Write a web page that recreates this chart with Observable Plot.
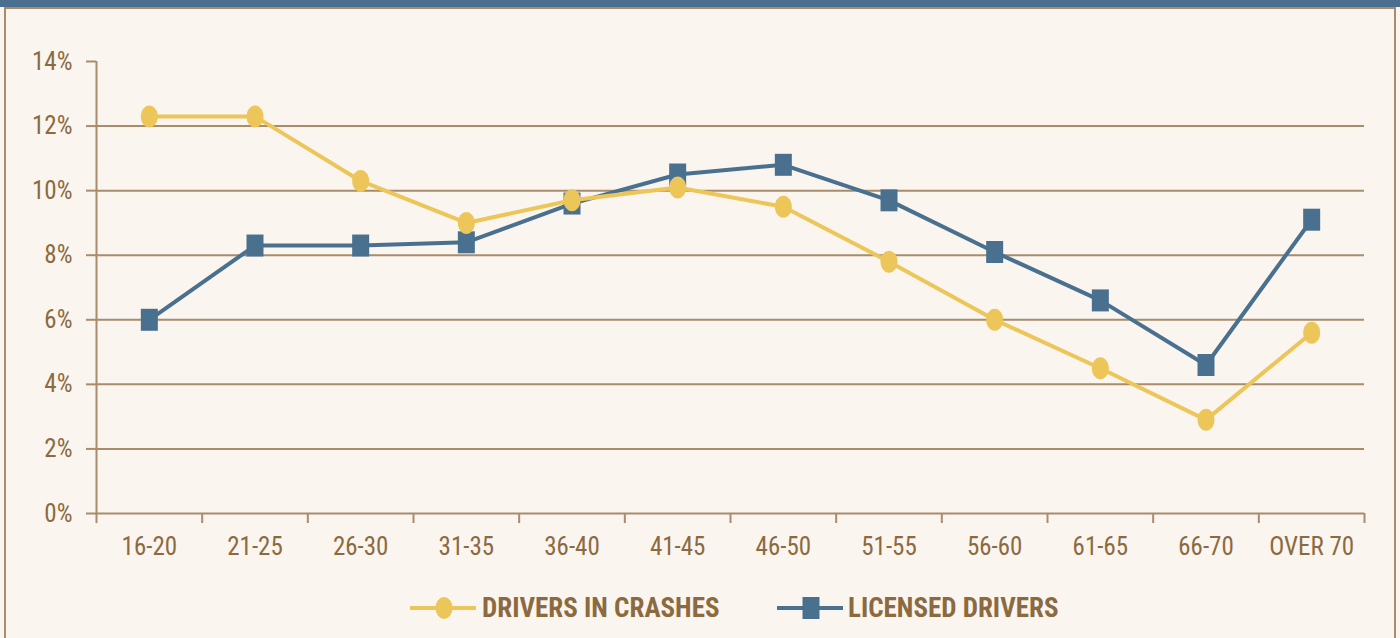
<!DOCTYPE html>
<html>
<head>
<meta charset="utf-8">
<script src="https://cdn.jsdelivr.net/npm/d3@7"></script>
<script src="https://cdn.jsdelivr.net/npm/@observablehq/plot@0.6"></script>
<style>
  html, body { margin: 0; padding: 0; background: #faf5ef; }
  body { width: 1400px; height: 638px; position: relative; overflow: hidden;
         font-family: "Liberation Sans Narrow", "Roboto Condensed", "Arial Narrow", "DejaVu Sans Condensed", sans-serif; }
  #band { position: absolute; left: 0; top: 0; width: 1400px; height: 7px; background: #4a6f8f; }
  #box { position: absolute; left: 4px; top: 7px; width: 1388px; height: 700px; border: 2px solid #a88c6b; }
  #chart { position: absolute; left: 0; top: 0; }
  #legend { position: absolute; left: 0; top: 591px; width: 1400px; height: 34px; }
  .item { position: absolute; top: 0; height: 34px; display: flex; align-items: center; }
  .item span { font-weight: bold; font-size: 27px; color: #8c6a3f; letter-spacing: 0; }
</style>
</head>
<body>
<div id="band"></div>
<div id="box"></div>
<div id="chart"></div>
<div id="legend">
  <div class="item" style="left:410px">
    <svg width="72" height="34"><line x1="0" x2="66" y1="17" y2="17" stroke="#ecc659" stroke-width="4"/><ellipse cx="34" cy="17" rx="8.5" ry="11" fill="#ecc659"/></svg>
    <span id="lab0"></span>
  </div>
  <div class="item" style="left:777px">
    <svg width="71" height="34"><line x1="0" x2="66" y1="17" y2="17" stroke="#4a7090" stroke-width="4"/><rect x="25.5" y="6" width="17" height="22" fill="#4a7090"/></svg>
    <span id="lab1"></span>
  </div>
</div>
<script>
const categories = ["16-20","21-25","26-30","31-35","36-40","41-45","46-50","51-55","56-60","61-65","66-70","OVER 70"];
const driversInCrashes = [12.3, 12.3, 10.3, 9.0, 9.7, 10.1, 9.5, 7.8, 6.0, 4.5, 2.9, 5.6];
const licensedDrivers = [6.0, 8.3, 8.3, 8.4, 9.6, 10.5, 10.8, 9.7, 8.1, 6.6, 4.6, 9.1];
const seriesNames = ["DRIVERS IN CRASHES", "LICENSED DRIVERS"];
const yTicks = [0, 2, 4, 6, 8, 10, 12, 14];
const gridTicks = [2, 4, 6, 8, 10, 12];

const tan = "#a88c6b";
const textColor = "#8c6a3f";
const yellow = "#ecc659";
const blue = "#4a7090";

document.getElementById("lab0").textContent = seriesNames[0];
document.getElementById("lab1").textContent = seriesNames[1];

const crashData = categories.map((c, i) => ({i, v: driversInCrashes[i]}));
const licData = categories.map((c, i) => ({i, v: licensedDrivers[i]}));

const ellipseSym = {
  draw(ctx) {
    const rx = 8.5, ry = 11, k = 0.5523;
    ctx.moveTo(rx, 0);
    ctx.bezierCurveTo(rx, ry * k, rx * k, ry, 0, ry);
    ctx.bezierCurveTo(-rx * k, ry, -rx, ry * k, -rx, 0);
    ctx.bezierCurveTo(-rx, -ry * k, -rx * k, -ry, 0, -ry);
    ctx.bezierCurveTo(rx * k, -ry, rx, -ry * k, rx, 0);
    ctx.closePath();
  }
};
const rectSym = { draw(ctx) { ctx.rect(-8.5, -11, 17, 22); } };

const bounds = d3.range(-0.5, categories.length, 1);

const chart = Plot.plot({
  width: 1400,
  height: 575,
  marginLeft: 96,
  marginRight: 36,
  marginTop: 61,
  marginBottom: 62,
  style: { background: "transparent", fontFamily: "'Liberation Sans Narrow', 'Roboto Condensed', 'Arial Narrow', 'DejaVu Sans Condensed', sans-serif" },
  x: { type: "linear", domain: [-0.5, categories.length - 0.5] },
  y: { domain: [0, 14] },
  marks: [
    Plot.ruleY(gridTicks, { stroke: tan, strokeWidth: 2 }),
    Plot.ruleY([0], { stroke: tan, strokeWidth: 2 }),
    Plot.ruleX([-0.5], { y1: 0, y2: 14, stroke: tan, strokeWidth: 2 }),
    Plot.axisY(yTicks, {
      tickSize: 10, tickPadding: 14, stroke: tan, strokeWidth: 2,
      tickFormat: d => d + "%", fontSize: 25, fill: textColor, label: null
    }),
    Plot.axisX(bounds, {
      tickSize: 10, tickFormat: () => "", stroke: tan, strokeWidth: 2, label: null
    }),
    Plot.axisX(d3.range(categories.length), {
      tickSize: 0, tickPadding: 24, tickFormat: i => categories[i],
      fontSize: 25, fill: textColor, label: null
    }),
    Plot.line(licData, { x: "i", y: "v", stroke: blue, strokeWidth: 4 }),
    Plot.dot(licData, { x: "i", y: "v", symbol: rectSym, fill: blue, stroke: "none" }),
    Plot.line(crashData, { x: "i", y: "v", stroke: yellow, strokeWidth: 4 }),
    Plot.dot(crashData, { x: "i", y: "v", symbol: ellipseSym, fill: yellow, stroke: "none" })
  ]
});
document.getElementById("chart").appendChild(chart);
</script>
</body>
</html>
